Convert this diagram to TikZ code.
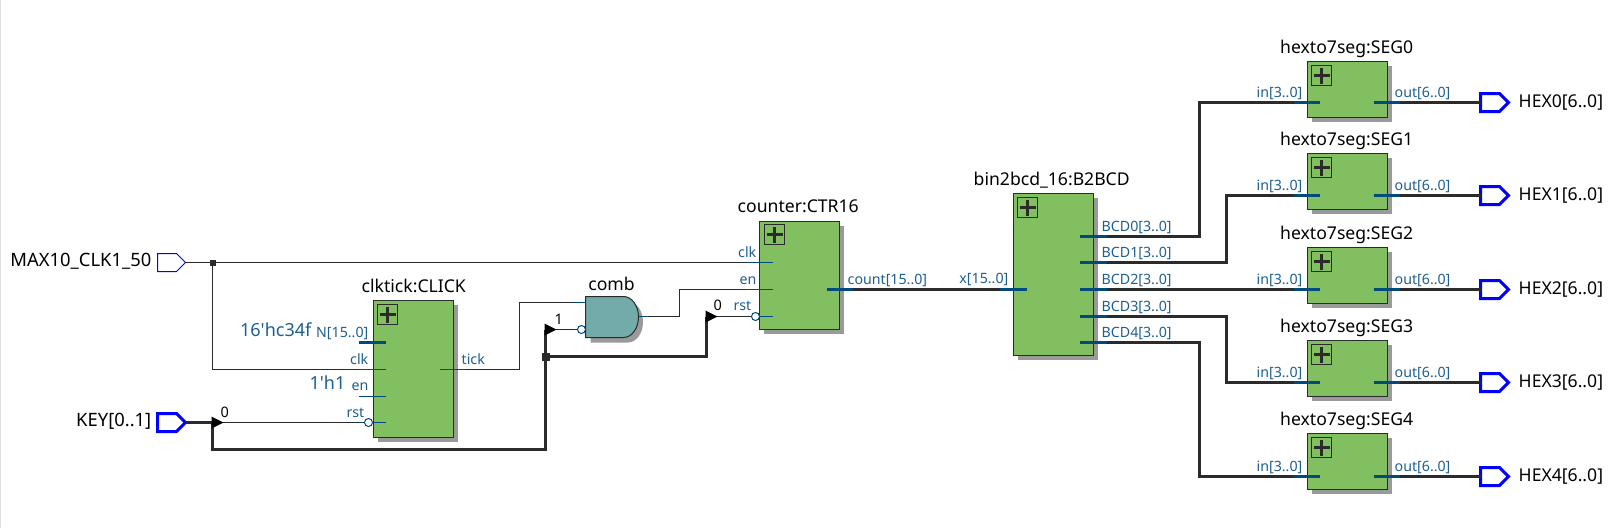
\documentclass[tikz,border=0pt]{standalone}
\usepackage{fontspec}
\setmainfont{Noto Sans}
\newfontfamily\plainfont{Noto Sans}
\usetikzlibrary{shapes.symbols,calc}
\definecolor{wirec}{HTML}{2B2B2B}
\definecolor{pinc}{HTML}{004A7C}
\definecolor{pintext}{HTML}{1F5F8F}
\definecolor{blockc}{HTML}{82BF60}
\definecolor{gatec}{HTML}{73ABAB}
\definecolor{shadowc}{HTML}{9A9A9A}
\tikzset{
  x=1pt,y=-1pt,
  block/.style={draw=wirec,fill=blockc,line width=1pt,rectangle,inner sep=0,outer sep=0,anchor=north west},
  blockshadow/.style={fill=shadowc,draw=none,rectangle,inner sep=0,outer sep=0,anchor=north west},
  plusbox/.style={draw=wirec,line width=1pt,inner sep=0,outer sep=0,minimum size=20pt,anchor=north west,
    path picture={\draw[wirec,line width=2.6pt] ([xshift=-8pt]path picture bounding box.center) -- ([xshift=8pt]path picture bounding box.center);
                  \draw[wirec,line width=2.6pt] ([yshift=-8pt]path picture bounding box.center) -- ([yshift=8pt]path picture bounding box.center);}},
  thin wire/.style={draw=wirec,line width=1pt},
  bus wire/.style={draw=wirec,line width=3pt,line join=miter},
  thin pin/.style={draw=pinc,line width=1pt},
  bus pin/.style={draw=pinc,line width=3pt},
  port/.style={signal,signal to=east,signal pointer angle=90,draw=blue,fill=white,inner sep=0,outer sep=0,minimum height=18pt,minimum width=28pt,anchor=west},
  bubble/.style={circle,draw=pinc,fill=white,line width=1pt,minimum size=8pt,inner sep=0,outer sep=0},
  junction/.style={rectangle,fill=wirec,inner sep=0,outer sep=0,minimum size=#1},
  title/.style={font=\fontsize{17.6}{20}\selectfont,text=black,inner sep=0,anchor=base west},
  portlabel/.style={font=\fontsize{18.4}{20}\selectfont,text=black,inner sep=0,anchor=base east},
  pinlabel/.style={font=\fontsize{14.2}{16}\selectfont,text=pintext,inner sep=0},
  constlabel/.style={font=\plainfont\fontsize{18}{20}\selectfont,text=pintext,inner sep=0,anchor=base east},
  vallabel/.style={font=\fontsize{14.5}{16}\selectfont,text=black,inner sep=0,anchor=base west},
  buffer/.style={fill=black,draw=none},
}
\begin{document}
\begin{tikzpicture}
\useasboundingbox (0,0) rectangle (1610,528);
\fill[white] (0,0) rectangle (1610,528);
\fill[black!12] (0,0) rectangle (1,528);
\begin{scope}[shift={(0.5,0.5)}]

% --- ports
\node[port,line width=1pt] (clkin) at (157,262) {};
\node[port,line width=3pt] (keyin) at (157,422) {};
\node[portlabel] (clkinL) at (151,266) {MAX10\_CLK1\_50};
\node[portlabel] (keyinL) at (151,426) {KEY[0..1]};

% --- shadows
\node[blockshadow,minimum width=80pt,minimum height=137pt] (clickS) at (377.5,304.5) {};
\node[blockshadow,minimum width=80pt,minimum height=108pt] (ctrS) at (763.5,225.5) {};
\node[blockshadow,minimum width=80pt,minimum height=162pt] (bcdS) at (1017.5,197.5) {};
\fill[shadowc] (590,301) -- (627.5,301) arc[start angle=-90,end angle=90,x radius=15,y radius=20.5] -- (590,342) -- cycle;

% --- blocks
\node[block,minimum width=80pt,minimum height=137pt] (click) at (373,300) {};
\node[plusbox] (clickP) at (377,304) {};
\node[title] (clickT) at (361,292) {clktick:CLICK};
\node[block,minimum width=80pt,minimum height=108pt] (ctr) at (759,221) {};
\node[plusbox] (ctrP) at (764,224) {};
\node[title] (ctrT) at (737,212) {counter:CTR16};
\node[block,minimum width=80pt,minimum height=162pt] (bcd) at (1013,193) {};
\node[plusbox] (bcdP) at (1017,197) {};
\node[title] (bcdT) at (973,185) {bin2bcd\_16:B2BCD};

% --- AND gate
\draw[draw=wirec,fill=gatec,line width=1pt] (585,296) coordinate (gateNW) -- (623,296) arc[start angle=-90,end angle=90,x radius=15,y radius=20.5] -- (585,337) -- cycle;
\coordinate (gateA) at (585,302);
\coordinate (gateB) at (585,329);
\coordinate (gateO) at (638,316);
\node[title,anchor=base] (gateT) at (611,290) {comb};

% --- clk net
\coordinate (jclk) at (212,262);
\coordinate (clickclk) at (385,369);
\coordinate (ctrclk) at (772,262);
\coordinate (ctren) at (772,289);
\coordinate (ctrrst) at (772,316);
\coordinate (clicktick) at (439,369);
\coordinate (clickN) at (358,342);
\coordinate (clicken) at (358,396);
\coordinate (clickrst) at (385,422);
\draw[thin wire] (clkin.east) -- (jclk) -- (ctrclk);
\draw[thin wire] (jclk) |- (clickclk);
\node[junction=6pt] (jclkN) at (jclk) {};

% --- tick to gate, gate to counter
\draw[thin wire] (clicktick) -- (519,369) -- (519,302) -- (gateA);
\draw[thin wire] (gateO) -- (679,316) -- (679,289) -- (ctren);
\draw[thin pin] (573,302) -- (gateA);
\draw[thin pin] (gateO) -- ++(9,0);

% --- key net
\coordinate (bufA) at (212,422);
\coordinate (jkey) at (545,356);
\coordinate (bufB) at (545,329);
\coordinate (bufC) at (706,316);
\draw[bus wire] (keyin.east) -- (bufA) -- (212,449) -- (545,449) -- (bufB);
\draw[bus wire] (jkey) -- (706,356) -- (bufC);
\node[junction=8pt] (jkeyN) at (jkey) {};
\draw[thin wire] (bufA) -- (clickrst);
\draw[thin wire] (bufB) -- (gateB);
\draw[thin wire] (bufC) -- (ctrrst);
\fill[buffer] (bufA)++(-1,-6) -- ++(12,6) -- ++(-12,6) -- cycle;
\fill[buffer] (bufB)++(-1,-6) -- ++(12,6) -- ++(-12,6) -- cycle;
\fill[buffer] (bufC)++(-1,-6) -- ++(12,6) -- ++(-12,6) -- cycle;
\node[vallabel] (v0a) at (220,417) {0};
\node[vallabel] (v1) at (554,324) {1};
\node[vallabel] (v0b) at (713,310) {0};

% --- bubbles
\draw[thin pin] ($(clickrst)+(-27,0)$) -- (clickrst);
\node[bubble] (clickB) at (368,422) {};
\draw[thin pin] (573,329) -- (gateB);
\node[bubble] (gateBub) at (581,329) {};
\draw[thin pin] (750,316) -- (ctrrst);
\node[bubble] (ctrB) at (755,316) {};

% --- CLICK pins
\draw[bus pin] (clickN) -- ++(27,0);
\draw[thin pin] (358,369) -- (clickclk);
\draw[thin pin] (clicken) -- ++(27,0);
\draw[thin pin] (clicktick) -- ++(26,0);
\node[pinlabel,anchor=base east] (lN) at (368,337) {N[15..0]};
\node[pinlabel,anchor=base east] (lclk) at (368,364) {clk};
\node[pinlabel,anchor=base east] (len) at (368,390) {en};
\node[pinlabel,anchor=base east] (lrst) at (364,417) {rst};
\node[pinlabel,anchor=base west] (ltick) at (461,364) {tick};
\node[constlabel] (c16) at (311,336) {16'hc34f};
\node[constlabel] (c1) at (345,389) {1'h1};

% --- counter pins
\draw[thin pin] (746,262) -- (ctrclk);
\draw[thin pin] (746,289) -- (ctren);
\node[pinlabel,anchor=base east] (l2clk) at (756,257) {clk};
\node[pinlabel,anchor=base east] (l2en) at (756,284) {en};
\node[pinlabel,anchor=base east] (l2rst) at (751,310) {rst};
\node[pinlabel,anchor=base west] (lcount) at (847,284) {count[15..0]};

% --- counter to bcd
\coordinate (ctrout) at (826,289);
\coordinate (bcdin) at (1026,289);
\draw[bus wire] (ctrout) -- (bcdin);
\draw[bus pin] (ctrout) -- ++(26,0);
\draw[bus pin] (999,289) -- (bcdin);
\node[pinlabel,anchor=base east] (lx) at (1008,283) {x[15..0]};

% --- seven-seg blocks
\foreach \i/\ty/\py/\wy in {0/61/102/236,1/153/195/262,2/247/289/289,3/340/382/316,4/433/476/342}{
  \node[blockshadow,minimum width=80pt,minimum height=56pt] (segS\i) at (1311.5,\ty+4.5) {};
  \node[block,minimum width=80pt,minimum height=56pt] (seg\i) at (1307,\ty) {};
  \node[plusbox] (segP\i) at (1311,\ty+4) {};
  \node[title] (segT\i) at (1279.5,\ty-8.5) {hexto7seg:SEG\i};
  \node[pinlabel,anchor=base east] (segI\i) at (1302,\py-5) {in[3..0]};
  \node[pinlabel,anchor=base west] (segO\i) at (1394,\py-5) {out[6..0]};
  \coordinate (segin\i) at (1319,\py);
  \coordinate (segout\i) at (1373,\py);
  \coordinate (bcdo\i) at (1079,\wy);
  \node[port,line width=3pt] (hex\i) at (1480,\py) {};
  \node[title] (hexL\i) at (1518,\py+4.5) {HEX\i[6..0]};
  \node[pinlabel,anchor=base west] (bcdL\i) at (1101,\wy-5) {BCD\i[3..0]};
  \draw[bus wire] (segout\i) -- (hex\i.west);
}
\draw[bus wire] (bcdo0) -- (1199,236) -- (1199,102) -- (segin0);
\draw[bus wire] (bcdo1) -- (1226,262) -- (1226,195) -- (segin1);
\draw[bus wire] (bcdo2) -- (segin2);
\draw[bus wire] (bcdo3) -- (1226,316) -- (1226,382) -- (segin3);
\draw[bus wire] (bcdo4) -- (1199,342) -- (1199,476) -- (segin4);
\foreach \i in {0,...,4}{
  \draw[bus pin] (bcdo\i) -- ++(27,0);
  \draw[bus pin] (segin\i) -- ++(-26,0);
  \draw[bus pin] (segout\i) -- ++(26,0);
}
\end{scope}
\end{tikzpicture}
\end{document}
